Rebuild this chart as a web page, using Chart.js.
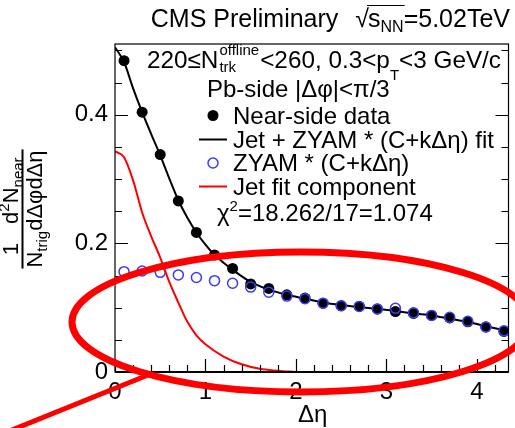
<!DOCTYPE html>
<html>
<head>
<meta charset="utf-8">
<script src="https://cdn.jsdelivr.net/npm/chart.js@4.4.0/dist/chart.umd.min.js"></script>
<style>
  html, body { margin: 0; padding: 0; background: #fff; }
</style>
</head>
<body>
<canvas id="plot" width="515" height="428"></canvas>
<script>
// near-side yield vs delta eta (bin centres)
const etaBins = [0.1, 0.3, 0.5, 0.7, 0.9, 1.1, 1.3, 1.5, 1.7, 1.9, 2.1, 2.3, 2.5, 2.7, 2.9, 3.1, 3.3, 3.5, 3.7, 3.9, 4.1, 4.3];
const nearSide = [0.484, 0.404, 0.338, 0.266, 0.217, 0.182, 0.161, 0.137, 0.130, 0.120, 0.115, 0.107, 0.103, 0.102, 0.098, 0.094, 0.091, 0.088, 0.084, 0.078, 0.070, 0.063];
const zyamBkg = [0.156, 0.157, 0.155, 0.151, 0.147, 0.142, 0.138, 0.132, 0.124, 0.118, 0.114, 0.107, 0.103, 0.102, 0.098, 0.099, 0.092, 0.088, 0.085, 0.079, 0.070, 0.064];

// fit curves
const fitEta = [0, 0.1, 0.2, 0.3, 0.4, 0.5, 0.6, 0.7, 0.8, 0.9, 1.0, 1.1, 1.2, 1.3, 1.5, 1.7, 1.9, 2.1, 2.3, 2.5, 2.7, 2.9, 3.1, 3.3, 3.5, 3.7, 3.9, 4.1, 4.3, 4.35];
const fitTotal = [0.505, 0.482, 0.441, 0.404, 0.370, 0.337, 0.301, 0.267, 0.240, 0.217, 0.198, 0.182, 0.170, 0.159, 0.140, 0.128, 0.120, 0.114, 0.108, 0.104, 0.101, 0.098, 0.095, 0.091, 0.088, 0.083, 0.078, 0.071, 0.065, 0.063];
const jetEta = [0, 0.1, 0.2, 0.3, 0.4, 0.5, 0.6, 0.7, 0.8, 0.9, 1.0, 1.2, 1.4, 1.6, 1.8, 2.0];
const jetComp = [0.343, 0.334, 0.298, 0.248, 0.211, 0.178, 0.140, 0.108, 0.078, 0.057, 0.043, 0.024, 0.012, 0.005, 0.002, 0.0];

const xTicks = [0, 1, 2, 3, 4];
const yTicks = [0, 0.2, 0.4];

const FONT = '"Liberation Sans", Arial, Helvetica, sans-serif';

function pts(xs, ys) {
  return xs.map((x, i) => ({ x: x, y: ys[i] }));
}

function setFont(ctx, size) {
  ctx.font = size + 'px ' + FONT;
}

// draws a run of [text, size, dy] pieces, returns width
function rich(ctx, x, y, parts, align) {
  let w = 0;
  parts.forEach(p => { setFont(ctx, p[1]); w += ctx.measureText(p[0]).width; });
  let cx = x;
  if (align === 'right') cx = x - w;
  else if (align === 'center') cx = x - w / 2;
  parts.forEach(p => {
    setFont(ctx, p[1]);
    ctx.fillText(p[0], cx, y + (p[2] || 0));
    cx += ctx.measureText(p[0]).width;
  });
  return w;
}

function richWidth(ctx, parts) {
  let w = 0;
  parts.forEach(p => { setFont(ctx, p[1]); w += ctx.measureText(p[0]).width; });
  return w;
}

const rootStyle = {
  id: 'rootStyle',
  afterDraw(chart) {
    const ctx = chart.ctx;
    const a = chart.chartArea;
    const xs = chart.scales.x;
    const ys = chart.scales.y;
    ctx.save();
    ctx.fillStyle = '#000';
    ctx.strokeStyle = '#000';
    ctx.textBaseline = 'alphabetic';
    ctx.textAlign = 'left';

    // frame
    ctx.lineWidth = 1.2;
    ctx.strokeRect(a.left, a.top, a.right - a.left, a.bottom - a.top);
    ctx.lineWidth = 2.2;
    ctx.beginPath();
    ctx.moveTo(a.left, a.bottom);
    ctx.lineTo(a.right, a.bottom);
    ctx.stroke();

    // tick marks, drawn inside the frame (bottom, left, right)
    ctx.lineWidth = 1.2;
    ctx.beginPath();
    for (let v = 0; v <= 4.35 + 1e-9; v += 0.2) {
      const px = Math.round(xs.getPixelForValue(v)) + 0.5;
      const major = Math.abs(v - Math.round(v)) < 1e-6;
      const len = major ? 13 : 7;
      ctx.moveTo(px, a.bottom);
      ctx.lineTo(px, a.bottom - len);
    }
    for (let v = 0; v <= 0.51 + 1e-9; v += 0.05) {
      const py = Math.round(ys.getPixelForValue(v)) + 0.5;
      const major = Math.abs(v / 0.2 - Math.round(v / 0.2)) < 1e-6;
      const len = major ? 13 : 7;
      ctx.moveTo(a.left, py);
      ctx.lineTo(a.left + len, py);
      ctx.moveTo(a.right, py);
      ctx.lineTo(a.right - len, py);
    }
    ctx.stroke();

    // title
    const tParts = [['s', 25, 0], ['NN', 16, 5], ['=5.02TeV', 25, 0]];
    const tw = richWidth(ctx, tParts);
    const tStart = 510 - tw;
    rich(ctx, tStart, 27, tParts);
    setFont(ctx, 25);
    const sq = ctx.measureText('\u221A').width;
    ctx.fillText('\u221A', tStart - sq + 1, 27);
    ctx.lineWidth = 1.2;
    ctx.beginPath();
    ctx.moveTo(tStart - 1, 5.5);
    ctx.lineTo(tStart + richWidth(ctx, [['s', 25], ['NN', 16]]) + 1, 5.5);
    ctx.stroke();
    setFont(ctx, 25);
    ctx.textAlign = 'right';
    ctx.fillText('CMS Preliminary', tStart - sq - 16, 27);
    ctx.textAlign = 'left';

    // selection text
    let x = 147;
    x += rich(ctx, x, 68, [['220\u2264N', 24.3, 0]]);
    setFont(ctx, 15);
    ctx.fillText('offline', x + 1, 55);
    ctx.fillText('trk', x + 1, 72);
    x += ctx.measureText('offline').width + 2;
    x += rich(ctx, x, 68, [['<260, 0.3<p', 24.3, 0]]);
    x += rich(ctx, x, 68, [['T', 15, 12]]);
    rich(ctx, x, 68, [['<3 GeV/c', 24.3, 0]]);
    rich(ctx, 207, 97, [['Pb-side |\u0394\u03C6|<\u03C0/3', 24, 0]]);

    // legend
    const lx = 233;
    const rows = [124, 147.5, 171, 194.5];
    ctx.beginPath();
    ctx.arc(213, rows[0] - 8.5, 5.5, 0, Math.PI * 2);
    ctx.fill();
    ctx.lineWidth = 2;
    ctx.beginPath();
    ctx.moveTo(199, rows[1] - 8);
    ctx.lineTo(227, rows[1] - 8);
    ctx.stroke();
    ctx.strokeStyle = '#3a3aff';
    ctx.lineWidth = 1.5;
    ctx.beginPath();
    ctx.arc(213, rows[2] - 8, 5, 0, Math.PI * 2);
    ctx.stroke();
    ctx.strokeStyle = '#ff0000';
    ctx.lineWidth = 2;
    ctx.beginPath();
    ctx.moveTo(199, rows[3] - 8);
    ctx.lineTo(227, rows[3] - 8);
    ctx.stroke();
    ctx.strokeStyle = '#000';
    rich(ctx, lx, rows[0], [['Near-side data', 24, 0]]);
    rich(ctx, lx, rows[1], [['Jet + ZYAM * (C+k\u0394\u03B7) fit', 24, 0]]);
    rich(ctx, lx, rows[2], [['ZYAM * (C+k\u0394\u03B7)', 24, 0]]);
    rich(ctx, lx, rows[3], [['Jet fit component', 24, 0]]);
    rich(ctx, 217, 221, [['\u03C7', 24, 0], ['2', 15, -10], ['=18.262/17=1.074', 24, 0]]);

    // axis titles
    rich(ctx, 298, 422, [['\u0394\u03B7', 24, 0]]);

    ctx.save();
    ctx.translate(22.5, 209);
    ctx.rotate(-Math.PI / 2);
    const denA = [['N', 22, 0], ['trig', 15, 5]];
    const denB = [['d\u0394\u03C6d\u0394\u03B7', 22, 0]];
    const wA = richWidth(ctx, denA);
    const wB = richWidth(ctx, denB);
    const total = wA + wB;
    const start = -total / 2;
    rich(ctx, start, 19.5, denA);
    rich(ctx, start + wA, 19.5, denB);
    rich(ctx, start + wA / 2, -5, [['1', 22, 0]], 'center');
    rich(ctx, start + wA + wB / 2, -5, [['d', 22, 0], ['2', 15, -9], ['N', 22, 0], ['near', 15, 5]], 'center');
    ctx.lineWidth = 2;
    ctx.beginPath();
    ctx.moveTo(start - 1, 0);
    ctx.lineTo(start + total + 1, 0);
    ctx.stroke();
    ctx.restore();

    // hand-drawn highlight over the picture
    ctx.strokeStyle = '#ff0000';
    ctx.lineWidth = 7;
    ctx.beginPath();
    ctx.ellipse(301, 322, 229, 70, 0, 0, Math.PI * 2);
    ctx.stroke();
    ctx.lineWidth = 5;
    ctx.beginPath();
    ctx.moveTo(2, 434);
    ctx.lineTo(148, 375);
    ctx.stroke();

    ctx.restore();
  }
};

new Chart(document.getElementById('plot'), {
  type: 'scatter',
  data: {
    datasets: [
      {
        label: 'Jet fit component',
        data: pts(jetEta, jetComp),
        showLine: true,
        borderColor: '#ff0000',
        borderWidth: 2,
        pointRadius: 0,
        cubicInterpolationMode: 'monotone',
        order: 0
      },
      {
        label: 'ZYAM * (C+k\u0394\u03B7)',
        data: pts(etaBins, zyamBkg),
        showLine: false,
        pointRadius: 5,
        pointBorderWidth: 1.5,
        pointBorderColor: '#3a3aff',
        pointBackgroundColor: 'rgba(0,0,0,0)',
        order: 1
      },
      {
        label: 'Jet + ZYAM * (C+k\u0394\u03B7) fit',
        data: pts(fitEta, fitTotal),
        showLine: true,
        borderColor: '#000',
        borderWidth: 2,
        pointRadius: 0,
        cubicInterpolationMode: 'monotone',
        order: 2
      },
      {
        label: 'Near-side data',
        data: pts(etaBins, nearSide),
        showLine: false,
        pointRadius: 5.5,
        pointBorderWidth: 0,
        pointBackgroundColor: '#000',
        order: 3
      }
    ]
  },
  options: {
    responsive: false,
    devicePixelRatio: 1,
    animation: false,
    layout: { padding: { top: 44, right: 4, left: 0, bottom: 0 } },
    plugins: {
      legend: { display: false },
      tooltip: { enabled: false }
    },
    scales: {
      x: {
        type: 'linear',
        min: 0,
        max: 4.35,
        grid: { display: false, drawTicks: false },
        border: { display: false },
        afterBuildTicks: s => { s.ticks = xTicks.map(v => ({ value: v })); },
        afterFit: s => { s.height = 56; },
        ticks: {
          color: '#000',
          padding: 6,
          maxRotation: 0,
          font: { family: FONT, size: 24 },
          callback: v => String(v)
        }
      },
      y: {
        type: 'linear',
        min: 0,
        max: 0.51,
        grid: { display: false, drawTicks: false },
        border: { display: false },
        afterBuildTicks: s => { s.ticks = yTicks.map(v => ({ value: v })); },
        afterFit: s => { s.width = 115; },
        ticks: {
          color: '#000',
          padding: 7,
          font: { family: FONT, size: 24 },
          callback: v => (v === 0 ? '0' : v.toFixed(1))
        }
      }
    }
  },
  plugins: [rootStyle]
});
</script>
</body>
</html>
